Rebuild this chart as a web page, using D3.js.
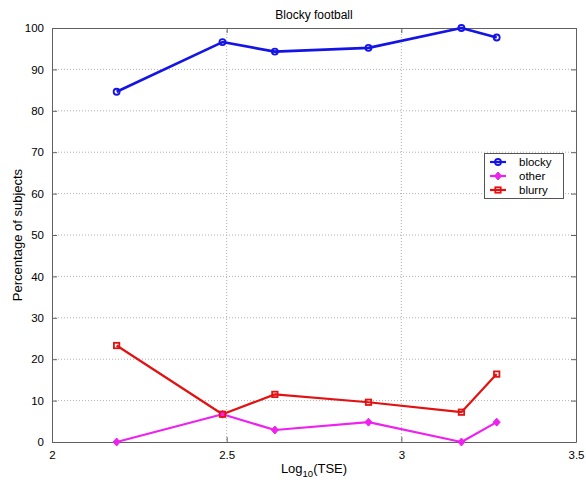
<!DOCTYPE html>
<html><head><meta charset="utf-8">
<script src="https://cdn.jsdelivr.net/npm/d3@7"></script>
<style>body{margin:0;background:#fff}svg{display:block;font-family:"Liberation Sans",Arial,sans-serif}</style>
</head><body><svg id="c" width="586" height="485"></svg>
<script>
const xVals = [2.185, 2.488, 2.638, 2.906, 3.172, 3.273];
const blocky = [84.6, 96.6, 94.3, 95.2, 100, 97.7];
const other = [0, 6.7, 2.9, 4.8, 0, 4.8];
const blurry = [23.3, 6.7, 11.5, 9.6, 7.2, 16.4];
const xTicks = [2, 2.5, 3, 3.5];
const yTicks = [0,10,20,30,40,50,60,70,80,90,100];
const seriesNames = ["blocky","other","blurry"];
const colors = ["#1414e6","#ee22ee","#e21212"];
const markers = ["circle","diamond","square"];
const seriesVals = [blocky, other, blurry];

const svg = d3.select("#c");
const L=52,R=576,T=28,B=442;
const x = d3.scaleLinear().domain([2,3.5]).range([L,R]);
const y = d3.scaleLinear().domain([0,100]).range([B,T]);
const axisCol="#606060";

// grid
const g = svg.append("g");
g.selectAll("line.gx").data(xTicks.slice(1,-1)).join("line")
 .attr("x1",d=>x(d)).attr("x2",d=>x(d)).attr("y1",T).attr("y2",B)
 .attr("stroke","#b0b0b0").attr("stroke-width",1).attr("stroke-dasharray","1,2");
g.selectAll("line.gy").data(yTicks.slice(1,-1)).join("line")
 .attr("y1",d=>y(d)).attr("y2",d=>y(d)).attr("x1",L).attr("x2",R)
 .attr("stroke","#b0b0b0").attr("stroke-width",1).attr("stroke-dasharray","1,2");

// axes
const ax = d3.axisBottom(x).tickValues(xTicks).tickFormat(d3.format("")).tickSizeInner(-5).tickSizeOuter(0).tickPadding(9);
const ay = d3.axisLeft(y).tickValues(yTicks).tickSizeInner(-5).tickSizeOuter(0).tickPadding(9);
const gx = svg.append("g").attr("transform",`translate(0,${B})`).call(ax);
const gy = svg.append("g").attr("transform",`translate(${L},0)`).call(ay);
const axT = d3.axisTop(x).tickValues(xTicks).tickFormat("").tickSizeInner(-5).tickSizeOuter(0);
const ayR = d3.axisRight(y).tickValues(yTicks).tickFormat("").tickSizeInner(-5).tickSizeOuter(0);
svg.append("g").attr("transform",`translate(0,${T})`).call(axT);
svg.append("g").attr("transform",`translate(${R},0)`).call(ayR);
svg.selectAll(".domain").attr("stroke",axisCol);
svg.selectAll(".tick line").attr("stroke",axisCol);
svg.selectAll(".tick text").attr("fill","#000").attr("font-size","11.5px").attr("font-family","Liberation Sans, Arial, sans-serif");
gy.selectAll(".tick text").attr("dx","1");

// lines
const line = d3.line().x((d,i)=>x(xVals[i])).y(d=>y(d));
seriesVals.forEach((vals,si)=>{
  svg.append("path").datum(vals).attr("d",line).attr("fill","none")
    .attr("stroke",colors[si]).attr("stroke-width",si===0?2.6:2.2).attr("stroke-linejoin","round");
});
function drawMarker(sel, type, col, cx, cy){
  if(type==="circle") sel.append("circle").attr("cx",cx).attr("cy",cy).attr("r",3).attr("fill","none").attr("stroke",col).attr("stroke-width",1.8);
  else if(type==="square") sel.append("rect").attr("x",cx-2.7).attr("y",cy-2.7).attr("width",5.4).attr("height",5.4).attr("fill","none").attr("stroke",col).attr("stroke-width",1.8);
  else sel.append("path").attr("d",`M${cx},${cy-4}L${cx+3.5},${cy}L${cx},${cy+4}L${cx-3.5},${cy}Z`).attr("fill",col).attr("stroke",col).attr("stroke-width",1);
}
seriesVals.forEach((vals,si)=>{
  const mg = svg.append("g");
  vals.forEach((v,i)=>drawMarker(mg, markers[si], colors[si], x(xVals[i]), y(v)));
});

// legend
const lg = svg.append("g");
lg.append("rect").attr("x",484.5).attr("y",153.5).attr("width",79).attr("height",45).attr("fill","#fff").attr("stroke","#555").attr("stroke-width",1);
seriesNames.forEach((n,i)=>{
  const ly = 162+i*14;
  lg.append("line").attr("x1",490).attr("x2",506).attr("y1",ly).attr("y2",ly).attr("stroke",colors[i]).attr("stroke-width",2.2);
  drawMarker(lg, markers[i], colors[i], 498, ly);
  lg.append("text").attr("x",519).attr("y",ly+4).attr("font-size","11.5px").text(n);
});

// title & labels
svg.append("text").attr("x",(L+R)/2).attr("y",19).attr("text-anchor","middle").attr("font-size","12px").text("Blocky football");
const xl = svg.append("text").attr("x",(L+R)/2).attr("y",473).attr("text-anchor","middle").attr("font-size","13px");
xl.append("tspan").text("Log");
xl.append("tspan").attr("font-size","9.5px").attr("dy","4").text("10");
xl.append("tspan").attr("dy","-4").text("(TSE)");
svg.append("text").attr("transform",`translate(22,${(T+B)/2}) rotate(-90)`).attr("text-anchor","middle").attr("font-size","13px").text("Percentage of subjects");
</script></body></html>
